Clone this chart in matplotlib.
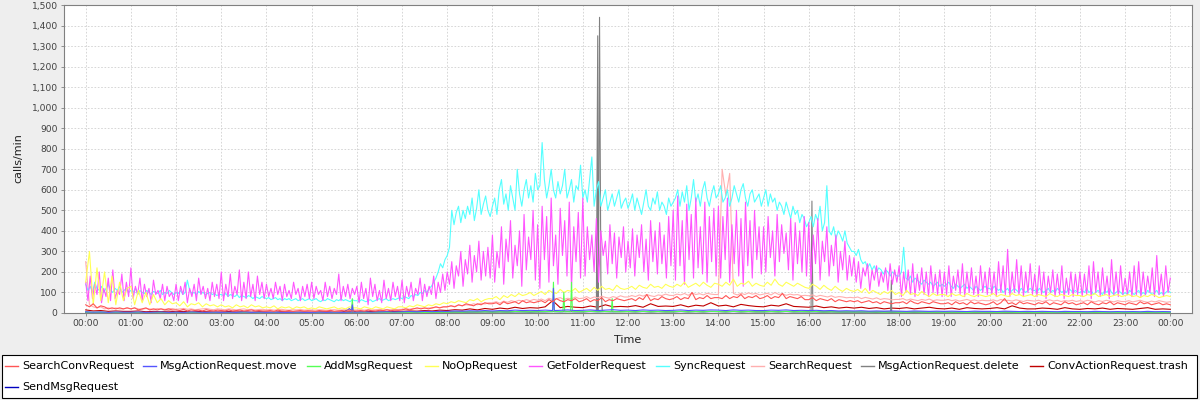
import numpy as np
import matplotlib
matplotlib.use("Agg")
import matplotlib.pyplot as plt
from matplotlib.lines import Line2D
from matplotlib.patches import Rectangle
from matplotlib.ticker import FuncFormatter, MultipleLocator

plt.rcParams['font.family'] = ['DejaVu Sans']

series_names = ["SearchConvRequest", "MsgActionRequest.move", "AddMsgRequest", "NoOpRequest",
                "GetFolderRequest", "SyncRequest", "SearchRequest", "MsgActionRequest.delete",
                "ConvActionRequest.trash", "SendMsgRequest"]
series_colors = ["#FF5555", "#5555FF", "#55FF55", "#FFFF55", "#FF55FF", "#55FFFF",
                 "#FFAFAF", "#808080", "#C00000", "#0000C0"]
x_tick_labels = ["00:00", "01:00", "02:00", "03:00", "04:00", "05:00", "06:00", "07:00",
                 "08:00", "09:00", "10:00", "11:00", "12:00", "13:00", "14:00", "15:00",
                 "16:00", "17:00", "18:00", "19:00", "20:00", "21:00", "22:00", "23:00", "00:00"]

# GetFolderRequest, 3-minute samples (20 per hour)
get_folder = [
    150, 60, 180, 70, 140, 90, 200, 50, 120, 80, 170, 60, 210, 70, 110, 90, 190, 60, 150, 80,
    220, 70, 130, 90, 170, 60, 140, 80, 120, 50, 160, 90, 110, 70, 140, 60, 130, 80, 100, 60,
    140, 60, 130, 90, 150, 50, 120, 80, 140, 60, 170, 90, 130, 70, 120, 60, 150, 80, 140, 70,
    200, 60, 140, 80, 190, 70, 130, 90, 210, 60, 150, 70, 200, 80, 140, 60, 180, 90, 150, 70,
    140, 80, 120, 70, 150, 90, 130, 60, 140, 80, 110, 70, 150, 90, 120, 60, 130, 80, 140, 70,
    150, 70, 130, 90, 110, 60, 150, 80, 130, 70, 120, 90, 190, 60, 130, 80, 140, 70, 120, 90,
    130, 50, 150, 70, 120, 40, 170, 80, 140, 60, 110, 50, 160, 70, 120, 60, 150, 80, 130, 60,
    160, 50, 130, 80, 150, 60, 120, 90, 170, 60, 140, 80, 130, 90, 180, 70, 150, 100, 190, 110,
    200, 140, 250, 120, 230, 180, 300, 130, 260, 190, 330, 150, 280, 200, 350, 160, 300, 180, 320, 170,
    380, 150, 300, 220, 420, 140, 360, 250, 450, 170, 330, 230, 400, 130, 480, 210, 370, 260, 500, 160,
    430, 120, 520, 260, 470, 150, 560, 230, 380, 140, 510, 280, 450, 180, 540, 120, 420, 250, 490, 170,
    560, 180, 420, 260, 380, 200, 460, 150, 400, 280, 350, 190, 430, 240, 390, 170, 370, 270, 420, 200,
    350, 220, 410, 180, 380, 270, 430, 200, 360, 160, 450, 250, 400, 190, 440, 240, 380, 170, 470, 230,
    500, 160, 570, 230, 450, 140, 530, 260, 480, 170, 560, 220, 420, 190, 540, 150, 470, 250, 510, 180,
    520, 170, 470, 260, 560, 150, 430, 240, 500, 180, 460, 130, 540, 230, 450, 170, 500, 260, 420, 190,
    420, 200, 470, 270, 400, 180, 480, 250, 430, 290, 390, 210, 460, 160, 440, 240, 400, 200, 470, 180,
    440, 150, 380, 240, 460, 160, 350, 250, 420, 180, 330, 230, 380, 150, 300, 210, 350, 160, 280, 180,
    270, 150, 250, 120, 220, 180, 240, 110, 210, 160, 230, 130, 200, 150, 220, 110, 240, 140, 210, 150,
    230, 80, 200, 100, 210, 90, 240, 80, 190, 110, 220, 90, 200, 80, 230, 100, 190, 90, 210, 80,
    200, 90, 230, 80, 180, 110, 210, 90, 240, 80, 200, 100, 220, 90, 180, 80, 230, 100, 200, 90,
    220, 90, 200, 80, 250, 100, 230, 90, 310, 80, 200, 100, 260, 90, 230, 80, 200, 100, 240, 90,
    190, 80, 230, 90, 200, 70, 180, 100, 210, 80, 190, 90, 230, 70, 170, 90, 200, 80, 190, 90,
    200, 80, 190, 90, 230, 70, 250, 100, 200, 80, 220, 90, 180, 70, 260, 90, 200, 80, 230, 90,
    170, 90, 200, 80, 230, 90, 250, 80, 200, 90, 180, 100, 220, 80, 280, 90, 190, 80, 230, 100,
    170]

# SyncRequest, 3-minute samples (20 per hour)
sync = [
    140, 110, 130, 100, 150, 120, 110, 130, 100, 120, 140, 110, 100, 120, 110, 130, 100, 110, 120, 100,
    110, 100, 120, 90, 110, 100, 95, 110, 100, 90, 105, 100, 95, 110, 90, 100, 95, 110, 100, 90,
    100, 95, 110, 90, 100, 160, 110, 95, 100, 90, 105, 95, 100, 90, 95, 100, 90, 95, 85, 90,
    90, 85, 95, 80, 90, 85, 80, 90, 75, 85, 80, 75, 85, 80, 70, 80, 75, 70, 80, 75,
    70, 75, 65, 70, 75, 65, 70, 60, 70, 65, 70, 60, 65, 70, 60, 65, 70, 60, 65, 70,
    60, 65, 70, 60, 55, 65, 60, 70, 65, 60, 55, 65, 60, 70, 60, 65, 60, 55, 65, 60,
    60, 55, 65, 60, 55, 60, 65, 55, 60, 65, 70, 60, 65, 70, 60, 65, 70, 65, 70, 75,
    70, 80, 75, 70, 85, 80, 90, 85, 100, 95, 110, 100, 120, 130, 150, 170, 200, 240, 220, 260,
    280, 320, 500, 430, 490, 520, 440, 500, 460, 520, 480, 560, 450, 510, 600, 480, 530, 570, 500, 470,
    520, 560, 480, 600, 650, 530, 580, 500, 620, 560, 500, 700, 580, 520, 600, 650, 560, 620, 540, 680,
    600, 620, 830, 650, 560, 620, 700, 600, 560, 640, 580, 620, 700, 560, 600, 650, 540, 620, 600, 720,
    560, 600, 540, 650, 760, 520, 600, 640, 520, 560, 600, 500, 540, 580, 520, 560, 600, 510, 540, 560,
    510, 540, 580, 500, 560, 520, 480, 540, 600, 520, 500, 560, 530, 590, 500, 540, 520, 480, 560, 520,
    540, 560, 600, 520, 590, 540, 620, 500, 560, 650, 540, 580, 520, 600, 640, 560, 520, 580, 620, 560,
    580, 620, 540, 560, 600, 520, 560, 620, 580, 540, 600, 630, 560, 520, 580, 600, 540, 560, 580, 520,
    560, 600, 520, 580, 540, 560, 500, 540, 520, 480, 540, 500, 460, 520, 480, 500, 440, 480, 460, 420,
    440, 470, 420, 480, 450, 520, 400, 440, 620, 400, 380, 420, 360, 400, 380, 350, 400, 340, 320, 300,
    300, 280, 310, 260, 240, 250, 220, 240, 210, 230, 200, 220, 210, 190, 210, 200, 180, 200, 190, 180,
    180, 200, 320, 170, 160, 180, 150, 170, 160, 150, 140, 160, 150, 140, 150, 130, 140, 150, 130, 140,
    130, 140, 150, 130, 120, 140, 130, 120, 130, 140, 120, 130, 120, 110, 130, 120, 110, 120, 130, 120,
    120, 110, 130, 120, 110, 120, 100, 110, 120, 100, 110, 120, 110, 100, 120, 110, 100, 110, 120, 110,
    110, 100, 120, 110, 100, 110, 120, 100, 110, 100, 120, 110, 100, 110, 100, 120, 110, 100, 110, 100,
    100, 110, 100, 120, 100, 110, 90, 100, 110, 100, 90, 110, 100, 120, 100, 90, 100, 110, 100, 90,
    100, 90, 110, 100, 90, 100, 110, 90, 100, 90, 110, 100, 90, 100, 110, 90, 100, 90, 100, 110,
    100]

# NoOpRequest, 5-minute samples (12 per hour)
noop = [
    150, 300, 40, 220, 60, 200, 50, 180, 40, 150, 60, 120,
    130, 40, 110, 50, 100, 40, 90, 50, 70, 40, 60, 45,
    50, 35, 55, 30, 45, 40, 50, 30, 45, 35, 40, 30,
    40, 30, 35, 25, 40, 30, 35, 25, 40, 30, 35, 25,
    30, 25, 35, 20, 30, 25, 30, 20, 30, 25, 30, 20,
    25, 20, 30, 25, 20, 25, 30, 20, 25, 20, 30, 25,
    25, 20, 30, 25, 20, 30, 25, 20, 30, 25, 20, 30,
    30, 25, 35, 30, 40, 35, 30, 40, 35, 45, 40, 50,
    45, 55, 50, 60, 55, 50, 65, 60, 70, 55, 65, 70,
    70, 80, 65, 85, 75, 90, 80, 95, 85, 90, 100, 85,
    95, 105, 90, 110, 100, 95, 115, 100, 110, 105, 120, 100,
    110, 120, 105, 125, 110, 130, 115, 120, 110, 135, 120, 115,
    120, 130, 115, 135, 125, 120, 140, 125, 130, 120, 140, 130,
    125, 140, 130, 150, 125, 135, 145, 130, 150, 135, 125, 145,
    140, 130, 150, 135, 165, 130, 145, 140, 155, 130, 145, 135,
    130, 150, 135, 165, 140, 130, 150, 140, 130, 145, 135, 125,
    120, 140, 130, 115, 135, 120, 110, 130, 115, 105, 120, 110,
    105, 115, 100, 120, 95, 110, 100, 90, 105, 95, 110, 90,
    100, 85, 110, 90, 95, 85, 105, 90, 80, 95, 85, 90,
    90, 80, 95, 85, 90, 80, 95, 85, 80, 90, 85, 80,
    85, 95, 80, 90, 85, 80, 95, 85, 90, 80, 85, 90,
    80, 90, 85, 80, 95, 85, 80, 90, 85, 80, 90, 85,
    85, 80, 90, 85, 95, 80, 85, 90, 80, 85, 90, 80,
    85, 90, 80, 85, 75, 85, 80, 90, 85, 75, 80, 85,
    80]

# SearchConvRequest, 5-minute samples
search_conv = [
    40, 30, 45, 25, 35, 30, 20, 25, 20, 25, 20, 25,
    20, 25, 15, 20, 25, 15, 20, 15, 20, 15, 20, 15,
    15, 12, 18, 10, 15, 12, 14, 10, 16, 12, 10, 14,
    12, 10, 15, 10, 12, 14, 10, 12, 15, 10, 12, 10,
    10, 12, 8, 14, 10, 9, 12, 8, 10, 12, 9, 11,
    10, 8, 12, 10, 9, 13, 8, 10, 12, 9, 11, 10,
    10, 12, 9, 14, 11, 10, 13, 12, 15, 11, 14, 13,
    15, 20, 15, 20, 25, 20, 25, 20, 25, 30, 25, 30,
    30, 35, 30, 40, 35, 45, 40, 35, 45, 40, 50, 45,
    45, 50, 40, 55, 45, 50, 55, 45, 60, 50, 55, 50,
    55, 60, 50, 65, 55, 70, 60, 55, 65, 60, 70, 55,
    60, 70, 55, 65, 60, 75, 55, 65, 60, 70, 65, 60,
    65, 70, 60, 75, 65, 90, 60, 70, 65, 80, 70, 65,
    70, 80, 65, 75, 70, 100, 65, 75, 70, 85, 70, 75,
    75, 70, 85, 70, 80, 75, 90, 70, 80, 75, 85, 70,
    75, 85, 70, 80, 75, 95, 70, 80, 75, 70, 80, 65,
    65, 75, 60, 70, 65, 60, 70, 55, 65, 60, 55, 60,
    55, 60, 50, 55, 60, 50, 55, 45, 55, 50, 45, 50,
    50, 55, 45, 60, 50, 45, 55, 50, 45, 55, 50, 45,
    45, 50, 40, 55, 45, 50, 40, 55, 45, 50, 45, 40,
    45, 55, 40, 50, 70, 45, 50, 40, 55, 45, 50, 45,
    40, 50, 45, 55, 40, 50, 45, 40, 55, 45, 50, 40,
    45, 50, 40, 55, 45, 40, 50, 45, 55, 40, 50, 45,
    40, 50, 45, 40, 55, 45, 50, 40, 45, 50, 40, 45,
    40]

# SearchRequest, 5-minute samples
search = [
    250, 40, 30, 25, 30, 20, 25, 20, 25, 20, 20, 25,
    20, 25, 20, 18, 22, 20, 18, 22, 20, 18, 20, 22,
    18, 20, 22, 18, 20, 16, 18, 20, 22, 18, 16, 20,
    18, 16, 20, 18, 15, 18, 20, 16, 18, 15, 17, 18,
    15, 17, 14, 16, 18, 15, 14, 16, 15, 17, 14, 15,
    15, 14, 16, 15, 13, 15, 16, 14, 15, 16, 14, 15,
    15, 16, 14, 17, 15, 16, 18, 15, 17, 16, 18, 17,
    18, 20, 19, 22, 20, 24, 22, 25, 24, 28, 26, 30,
    30, 35, 32, 38, 35, 40, 38, 45, 40, 48, 44, 50,
    50, 55, 48, 58, 52, 60, 55, 62, 58, 65, 60, 66,
    62, 68, 60, 72, 65, 70, 75, 66, 72, 68, 78, 70,
    72, 80, 70, 78, 74, 82, 76, 72, 80, 75, 84, 78,
    78, 85, 80, 88, 82, 90, 84, 80, 88, 85, 92, 86,
    85, 92, 88, 95, 86, 98, 90, 94, 88, 96, 92, 90,
    90, 700, 570, 680, 95, 88, 96, 90, 98, 92, 95, 88,
    92, 96, 88, 100, 90, 94, 86, 92, 88, 90, 84, 86,
    84, 88, 80, 86, 82, 78, 84, 76, 80, 78, 74, 76,
    74, 78, 70, 76, 72, 68, 74, 66, 70, 68, 64, 66,
    66, 70, 62, 68, 64, 60, 66, 62, 68, 60, 64, 62,
    62, 66, 60, 64, 58, 62, 66, 60, 64, 58, 62, 60,
    60, 64, 58, 66, 60, 62, 58, 64, 60, 56, 62, 60,
    58, 62, 56, 60, 64, 58, 62, 56, 60, 58, 62, 56,
    60, 56, 62, 58, 54, 60, 56, 62, 58, 54, 60, 56,
    56, 60, 54, 58, 62, 56, 52, 58, 54, 60, 56, 52,
    55]

# ConvActionRequest.trash, 10-minute samples (6 per hour)
trash = [
    15, 10, 12, 8, 10, 8,   8, 10, 6, 8, 7, 9,   6, 8, 5, 7, 6, 5,   5, 7, 5, 6, 4, 6,
    5, 4, 6, 5, 4, 5,   4, 5, 6, 4, 5, 6,   5, 6, 7, 5, 6, 8,   8, 10, 9, 12, 10, 14,
    12, 16, 14, 20, 15, 22,   18, 24, 20, 28, 22, 26,   24, 30, 60, 26, 32, 28,   26, 34, 28, 40, 30, 32,
    30, 36, 28, 45, 32, 34,   32, 40, 30, 38, 34, 50,   34, 38, 30, 42, 36, 32,   30, 38, 34, 45, 32, 30,
    28, 34, 26, 30, 24, 28,   24, 28, 22, 26, 20, 24,   22, 26, 20, 24, 28, 22,   20, 24, 18, 26, 22, 20,
    22, 26, 20, 35, 24, 20,   20, 24, 22, 18, 26, 20,   18, 22, 20, 24, 18, 22,   20, 18, 22, 26, 18, 20,
    18]

# MsgActionRequest.move, 10-minute baseline
move = [
    6, 4, 5, 3, 5, 4,   4, 5, 3, 4, 5, 3,   4, 3, 5, 4, 3, 4,   3, 4, 3, 5, 3, 4,
    3, 4, 3, 3, 4, 3,   3, 4, 3, 4, 3, 4,   4, 5, 4, 5, 6, 5,   6, 7, 6, 8, 7, 8,
    8, 10, 9, 11, 10, 12,   10, 12, 11, 14, 12, 13,   12, 14, 13, 13, 15, 12,   13, 15, 12, 14, 16, 13,
    14, 12, 15, 13, 14, 12,   13, 15, 12, 14, 13, 15,   14, 12, 15, 13, 14, 12,   12, 14, 13, 15, 12, 13,
    12, 13, 11, 12, 10, 11,   10, 11, 9, 10, 9, 10,   9, 8, 10, 9, 8, 9,   8, 9, 8, 7, 9, 8,
    8, 7, 9, 8, 7, 8,   7, 8, 7, 6, 8, 7,   7, 6, 8, 7, 6, 7,   6, 7, 6, 8, 6, 7,
    6]
move_peak_t = [5.88, 5.90, 5.92, 10.33, 10.35, 10.37]
move_peak_v = [4, 40, 4, 12, 120, 12]

# AddMsgRequest, 10-minute baseline
add_msg = [
    5, 3, 4, 2, 3, 2,   2, 3, 2, 2, 3, 2,   2, 2, 3, 2, 2, 2,   2, 2, 2, 3, 2, 2,
    2, 2, 2, 2, 2, 2,   2, 2, 2, 2, 2, 3,   2, 3, 2, 3, 3, 2,   3, 3, 4, 3, 4, 4,
    4, 5, 4, 6, 5, 6,   5, 6, 5, 7, 6, 6,   6, 7, 6, 7, 6, 7,   6, 8, 6, 7, 6, 6,
    7, 6, 8, 6, 7, 6,   6, 8, 6, 7, 6, 8,   7, 6, 8, 6, 7, 6,   6, 7, 6, 8, 6, 7,
    6, 7, 5, 6, 5, 6,   5, 6, 5, 5, 4, 5,   4, 4, 5, 4, 4, 4,   4, 4, 4, 3, 4, 4,
    4, 3, 4, 4, 3, 4,   3, 4, 3, 3, 4, 3,   3, 3, 4, 3, 3, 3,   3, 3, 3, 4, 3, 3,
    3]
add_peak_t = [5.88, 5.90, 5.92, 10.33, 10.35, 10.37, 10.56, 10.58, 10.60,
              10.73, 10.75, 10.77, 11.63, 11.65, 11.67]
add_peak_v = [3, 70, 3, 6, 150, 6, 6, 100, 6, 6, 150, 6, 6, 70, 6]

# MsgActionRequest.delete, 10-minute baseline
delete = [
    3, 2, 3, 2, 2, 2,   2, 2, 2, 2, 2, 2,   2, 2, 2, 2, 2, 2,   2, 2, 2, 2, 2, 2,
    2, 2, 2, 2, 2, 2,   2, 2, 2, 2, 2, 3,   2, 3, 2, 3, 3, 2,   3, 3, 4, 3, 4, 4,
    4, 5, 4, 6, 5, 6,   5, 6, 5, 7, 6, 6,   6, 7, 8, 7, 8, 7,   6, 8, 8, 7, 8, 6,
    7, 6, 8, 6, 7, 6,   6, 8, 6, 7, 6, 8,   7, 6, 8, 6, 7, 6,   6, 7, 6, 8, 6, 7,
    6, 7, 5, 6, 5, 6,   5, 6, 5, 5, 4, 5,   4, 4, 5, 4, 4, 4,   4, 4, 4, 3, 4, 4,
    4, 3, 4, 4, 3, 4,   3, 4, 3, 3, 4, 3,   3, 3, 4, 3, 3, 3,   3, 3, 3, 4, 3, 3,
    3]
delete_peak_t = [11.30, 11.33, 11.35, 11.37, 11.40, 11.43, 16.05, 16.07, 16.09, 17.81, 17.83, 17.85]
delete_peak_v = [10, 1350, 300, 1440, 150, 10, 8, 545, 8, 5, 160, 5]

# SendMsgRequest, 10-minute samples
send_msg = [
    3, 2, 3, 2, 2, 2,   2, 2, 2, 2, 2, 2,   2, 2, 1, 2, 2, 1,   2, 1, 2, 2, 1, 2,
    1, 2, 1, 2, 1, 2,   1, 2, 1, 2, 1, 20,   2, 2, 2, 3, 2, 3,   3, 3, 4, 3, 4, 4,
    4, 5, 4, 5, 5, 6,   5, 6, 5, 6, 6, 5,   6, 6, 7, 6, 7, 6,   6, 7, 6, 7, 6, 7,
    7, 6, 7, 6, 7, 6,   6, 7, 6, 7, 6, 7,   7, 6, 7, 6, 7, 6,   6, 7, 6, 7, 6, 6,
    6, 6, 5, 6, 5, 5,   5, 5, 5, 4, 5, 4,   4, 4, 4, 4, 4, 3,   4, 3, 4, 3, 3, 4,
    3, 3, 4, 3, 3, 3,   3, 3, 3, 3, 3, 3,   3, 3, 3, 3, 3, 2,   3, 3, 2, 3, 3, 3,
    3]


def regular(values):
    return np.linspace(0, 24, len(values)), np.asarray(values, dtype=float)


def with_peaks(values, peak_t, peak_v):
    t, v = regular(values)
    t = np.concatenate([t, peak_t])
    v = np.concatenate([v, peak_v])
    order = np.argsort(t, kind="stable")
    return t[order], v[order]


series_xy = [
    regular(search_conv),
    with_peaks(move, move_peak_t, move_peak_v),
    with_peaks(add_msg, add_peak_t, add_peak_v),
    regular(noop),
    regular(get_folder),
    regular(sync),
    regular(search),
    with_peaks(delete, delete_peak_t, delete_peak_v),
    regular(trash),
    regular(send_msg),
]

W, H = 1200, 400
fig = plt.figure(figsize=(W / 100, H / 100), dpi=100, facecolor="#EEEEEE")
ax = fig.add_axes([64 / W, (H - 313) / H, (1192 - 64) / W, (313 - 5) / H])
ax.set_facecolor("white")

for i, (name, (tx, vy), col) in enumerate(zip(series_names, series_xy, series_colors)):
    ax.plot(tx, vy, color=col, lw=0.8, zorder=20 - i, label=name)

ax.set_xlim(-0.48, 24.48)
ax.set_ylim(0, 1500)
ax.set_xticks(np.arange(len(x_tick_labels)))
ax.set_xticklabels(x_tick_labels)
ax.yaxis.set_major_locator(MultipleLocator(100))
ax.yaxis.set_major_formatter(FuncFormatter(lambda v, p: f"{int(v):,}"))
ax.grid(True, color="#D0D0D0", linestyle=(0, (2, 2)), linewidth=0.6, zorder=0)
ax.set_axisbelow(True)
for s in ax.spines.values():
    s.set_color("#808080")
    s.set_linewidth(0.8)
ax.tick_params(axis="both", direction="out", length=2, width=0.6, color="#808080",
               labelsize=6.6, labelcolor="#404040", pad=2.5)

fig.text(18 / W, (H - 158) / H, "calls/min", rotation=90, ha="center", va="center",
         fontsize=8, color="#202020")
fig.text(628 / W, (H - 340) / H, "Time", ha="center", va="center", fontsize=8, color="#202020")

# legend box (flow layout as in the reference)
fig.add_artist(Rectangle((2 / W, (H - 398) / H), 1195 / W, 43 / H, transform=fig.transFigure,
                         facecolor="white", edgecolor="black", linewidth=0.8))
legend_text_x = [22, 160, 324, 442, 546, 673, 768, 878, 1047, 22]
legend_row_y = [366, 366, 366, 366, 366, 366, 366, 366, 366, 387]
for name, col, tx, ty in zip(series_names, series_colors, legend_text_x, legend_row_y):
    fy = (H - ty) / H
    fig.add_artist(Line2D([(tx - 17) / W, (tx - 4) / W], [fy, fy], transform=fig.transFigure,
                          color=col, lw=1.0))
    fig.text(tx / W, fy, name, ha="left", va="center", fontsize=8, color="black")

fig.savefig("out.png", dpi=100, facecolor=fig.get_facecolor())
